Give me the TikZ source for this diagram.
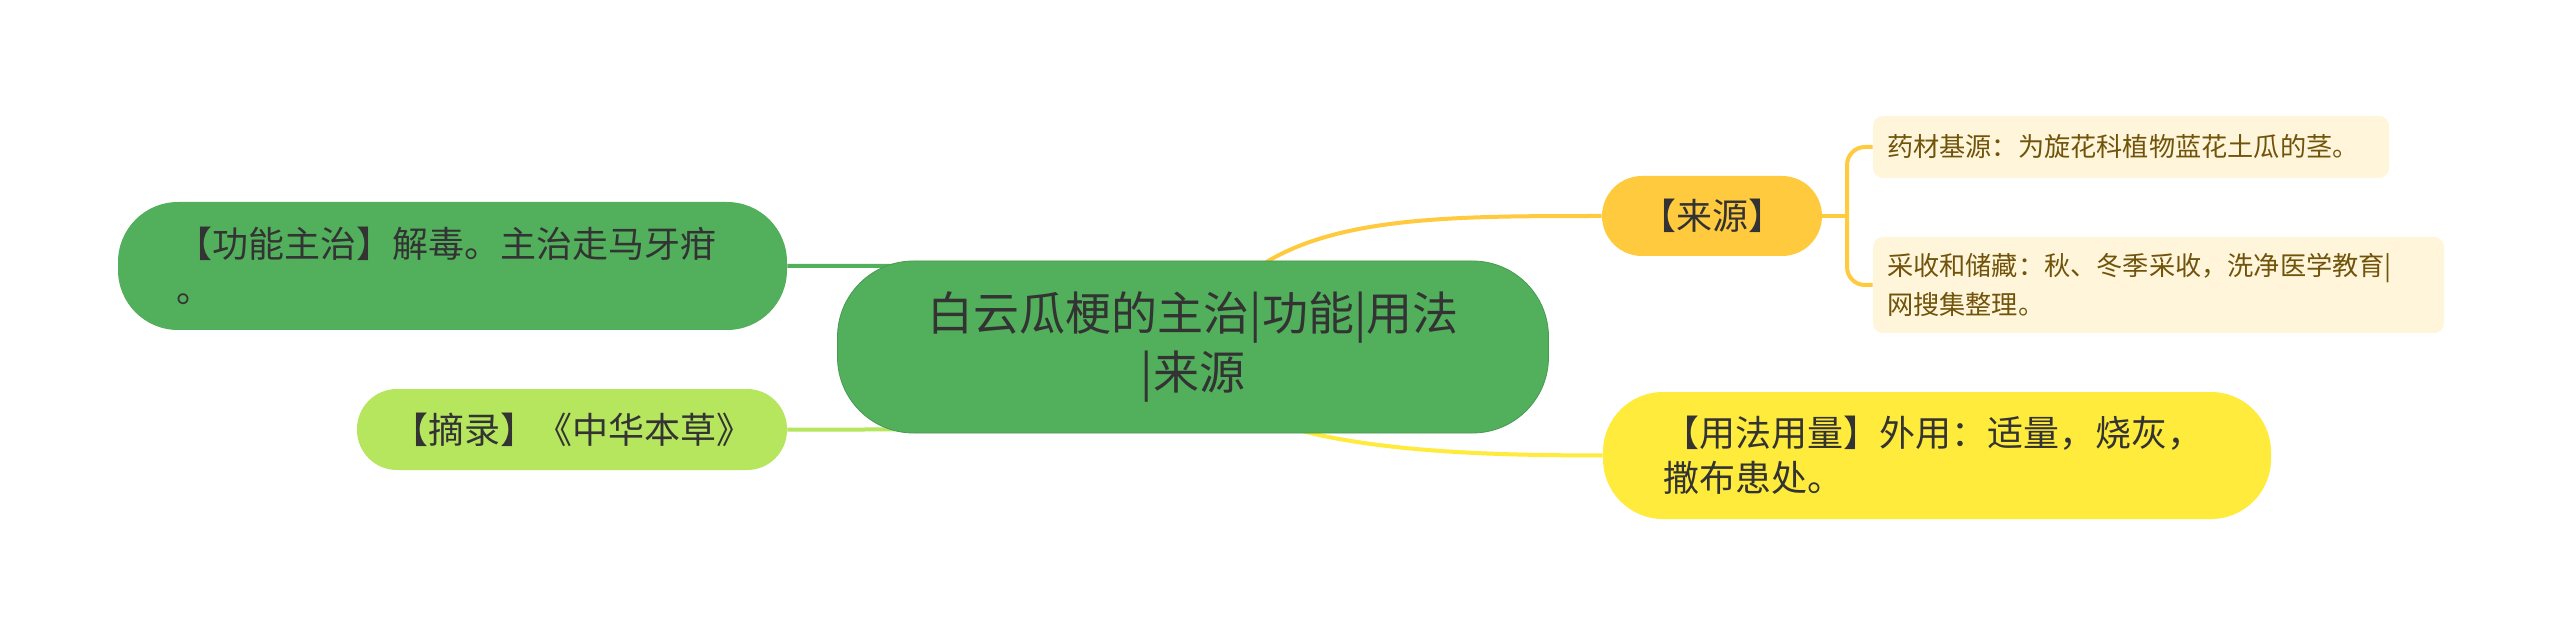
\documentclass[tikz,border=0pt]{standalone}
\usepackage{fontspec}
\setmainfont{Noto Sans CJK SC}
\usetikzlibrary{backgrounds}
\definecolor{rootgreen}{RGB}{82,175,92}
\definecolor{rootedge}{RGB}{70,155,80}
\definecolor{lightgreen}{RGB}{181,230,94}
\definecolor{orangey}{RGB}{255,202,62}
\definecolor{yellowy}{RGB}{255,235,59}
\definecolor{paleyellow}{RGB}{255,245,218}
\definecolor{darktext}{RGB}{51,51,51}
\definecolor{browntext}{RGB}{112,84,12}
\begin{document}
\begin{tikzpicture}[x=0.5pt,y=-0.5pt,
    rootnode/.style={fill=rootgreen, draw=rootedge, line width=0.4pt, rounded corners=38pt,
        minimum width=355.5pt, minimum height=86pt, inner sep=0pt, align=center, text=darktext,
        font=\fontsize{23pt}{29.5pt}\selectfont},
    topic/.style={rounded corners=20pt, inner ysep=0pt, text=darktext,
        font=\fontsize{18pt}{22.5pt}\selectfont},
    leaf/.style={fill=paleyellow, rounded corners=5pt, inner xsep=7pt, inner ysep=0pt, align=left,
        text=browntext, font=\fontsize{13.1pt}{19.5pt}\selectfont},
    lnk/.style={line width=2pt}]
        \node[rootnode] (root) at (1193,347) {白云瓜梗的主治|功能|用法\\|来源};

        \node[topic, fill=rootgreen, rounded corners=30pt, minimum height=64pt, inner xsep=29pt,
            text width=276.5pt, align=left] (gn) at (452.5,266) {【功能主治】解毒。主治走马牙疳\\。};
        \node[topic, fill=lightgreen, minimum width=215pt, minimum height=40.5pt, inner xsep=0pt] (zl) at (572,429.5) {【摘录】《中华本草》};
        \node[topic, fill=orangey, minimum width=110pt, minimum height=40pt, inner xsep=0pt] (ly) at (1712,216) {【来源】};
        \node[topic, fill=yellowy, rounded corners=30pt, minimum height=63.5pt, inner xsep=30pt,
            text width=274pt, align=left] (yf) at (1937,455.5) {【用法用量】外用：适量，烧灰，\\撒布患处。};

        \node[leaf, text width=244pt, minimum height=31pt] (s1) at (2131,147) {药材基源：为旋花科植物蓝花土瓜的茎。};
        \node[leaf, text width=271.5pt, minimum height=48pt] (s2) at (2158.5,285) {采收和储藏：秋、冬季采收，洗净医学教育|\\网搜集整理。};

        \coordinate (br) at (1847,216);

        \begin{scope}[on background layer]
            \fill[white] (0,0) rectangle (2560,636);
            \path[draw,lnk,rootgreen] (root.center) .. controls (1150,265) and (1000,265) .. (gn.east);
            \path[draw,lnk,lightgreen] (root.center) .. controls (1150,430) and (1000,430) .. (zl.east);
            \path[draw,lnk,orangey] (root.center) .. controls (1250,216) and (1400,216) .. (ly.west);
            \path[draw,lnk,yellowy] (root.center) .. controls (1200,455) and (1480,455) .. (yf.west);
            \path[draw,lnk,orangey] (ly.east) -- (br);
            \path[draw,lnk,orangey,rounded corners=9pt] (s1.west) -| (br) |- (s2.west);
        \end{scope}
        \useasboundingbox (0,0) rectangle (2560,636);
    \end{tikzpicture}
\end{document}
